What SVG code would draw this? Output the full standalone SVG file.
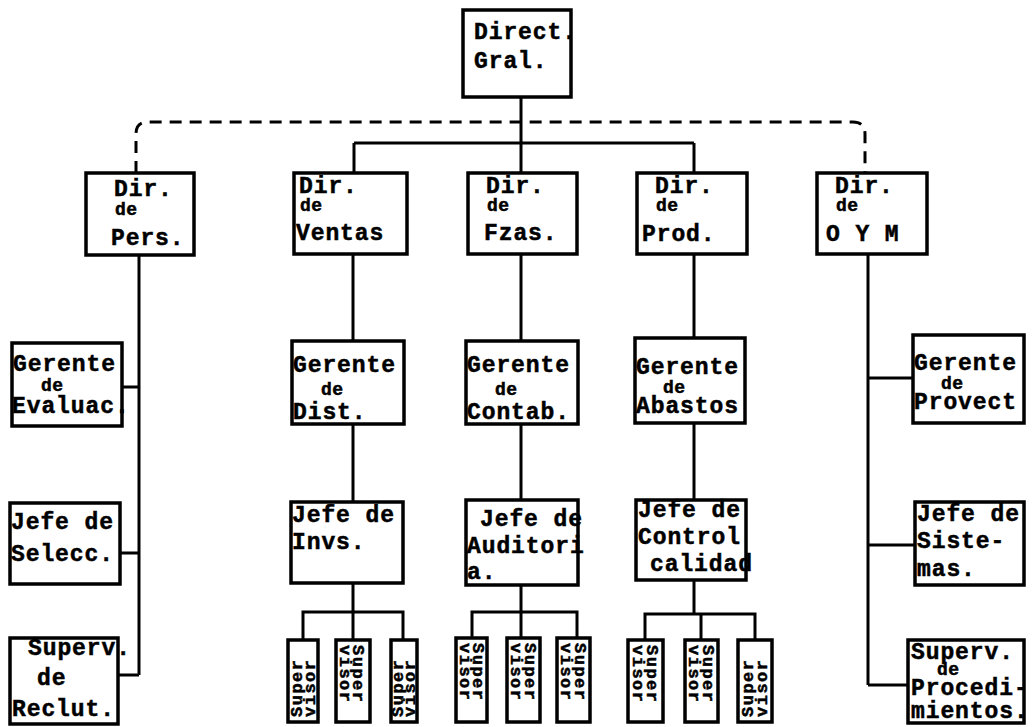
<svg xmlns="http://www.w3.org/2000/svg" width="1033" height="727" viewBox="0 0 1033 727">
<defs>
<style>
.box{fill:#fff;stroke:#000;stroke-width:3.5}
.ln{fill:none;stroke:#000;stroke-width:3}
.dash{fill:none;stroke:#000;stroke-width:3;stroke-dasharray:12 8}
text{font-family:"Liberation Mono","DejaVu Sans Mono",monospace;font-weight:bold;fill:#000;stroke:#000;stroke-width:0.5}
.t{font-size:23px;letter-spacing:0.9px}
.d{font-size:18px;letter-spacing:0.5px}
.s{font-size:17px;letter-spacing:1.5px}
</style>
</defs>
<rect width="1033" height="727" fill="#fff"/>
<g id="connectors">
<path class="dash" d="M136,173 V134 Q136,122 148,122 H853 Q865,122 865,134 V173"/>
<path class="ln" d="M521,97 V173 M354,143 H694 M354,143 V173 M694,143 V173"/>
<path class="ln" d="M139,255 V675 M122,387 H139 M120,553 H139 M118,675 H139"/>
<path class="ln" d="M353,255 V341 M353,424 V502 M353,583 V612 M303,640 V612 H403 V640 M353,612 V640"/>
<path class="ln" d="M521,255 V341 M521,424 V500 M521,585 V612 M472,638 V612 H577 V638 M521,612 V638"/>
<path class="ln" d="M694,255 V338 M694,423 V500 M694,580 V614 M645,640 V614 H755 V640 M701,614 V640"/>
<path class="ln" d="M868,255 V685 M868,378 H913 M868,545 H915 M868,685 H908"/>
</g>
<g id="dir-gral"><rect class="box" x="463" y="10" width="108" height="87"/>
<text class="t" x="474" y="39">Direct.</text><text class="t" x="474" y="68">Gral.</text></g>
<g id="dir-pers"><rect class="box" x="86" y="173" width="108" height="82"/>
<text class="t" x="114" y="196">Dir.</text><text class="d" x="115" y="215">de</text><text class="t" x="111" y="245">Pers.</text></g>
<g id="dir-ventas"><rect class="box" x="294" y="173" width="113" height="81"/>
<text class="t" x="299" y="193">Dir.</text><text class="d" x="300" y="211">de</text><text class="t" x="296" y="240">Ventas</text></g>
<g id="dir-fzas"><rect class="box" x="468" y="173" width="109" height="81"/>
<text class="t" x="486" y="193">Dir.</text><text class="d" x="487" y="211">de</text><text class="t" x="484" y="240">Fzas.</text></g>
<g id="dir-prod"><rect class="box" x="637" y="173" width="110" height="81"/>
<text class="t" x="655" y="193">Dir.</text><text class="d" x="656" y="211">de</text><text class="t" x="642" y="241">Prod.</text></g>
<g id="dir-oym"><rect class="box" x="817" y="173" width="110" height="81"/>
<text class="t" x="835" y="193">Dir.</text><text class="d" x="836" y="211">de</text><text class="t" x="826" y="241">O Y M</text></g>
<g id="ger-evaluac"><rect class="box" x="12" y="343" width="110" height="83"/>
<text class="t" x="13" y="371">Gerente</text><text class="d" x="41" y="391">de</text><text class="t" x="12" y="413">Evaluac.</text></g>
<g id="jefe-selecc"><rect class="box" x="10" y="503" width="110" height="81"/>
<text class="t" x="11" y="529">Jefe de</text><text class="t" x="11" y="561">Selecc.</text></g>
<g id="superv-reclut"><rect class="box" x="10" y="638" width="108" height="86"/>
<text class="t" x="28" y="655">Superv.</text><text class="t" x="37" y="685">de</text><text class="t" x="12" y="716">Reclut.</text></g>
<g id="ger-dist"><rect class="box" x="292" y="341" width="112" height="83"/>
<text class="t" x="293" y="372">Gerente</text><text class="d" x="321" y="395">de</text><text class="t" x="293" y="419">Dist.</text></g>
<g id="jefe-invs"><rect class="box" x="291" y="502" width="112" height="81"/>
<text class="t" x="292" y="522">Jefe de</text><text class="t" x="292" y="549">Invs.</text></g>
<g id="ger-contab"><rect class="box" x="466" y="341" width="112" height="83"/>
<text class="t" x="467" y="372">Gerente</text><text class="d" x="495" y="395">de</text><text class="t" x="467" y="419">Contab.</text></g>
<g id="jefe-auditoria"><rect class="box" x="466" y="500" width="112" height="85"/>
<text class="t" x="480" y="526">Jefe de</text><text class="t" x="467" y="553">Auditori</text><text class="t" x="467" y="579">a.</text></g>
<g id="ger-abastos"><rect class="box" x="635" y="338" width="110" height="85"/>
<text class="t" x="636" y="374">Gerente</text><text class="d" x="663" y="393">de</text><text class="t" x="636" y="413">Abastos</text></g>
<g id="jefe-calidad"><rect class="box" x="636" y="500" width="110" height="80"/>
<text class="t" x="638" y="517">Jefe de</text><text class="t" x="638" y="544">Control</text><text class="t" x="650" y="571">calidad</text></g>
<g id="ger-proyect"><rect class="box" x="913" y="335" width="111" height="88"/>
<text class="t" x="914" y="370">Gerente</text><text class="d" x="941" y="389">de</text><text class="t" x="914" y="409">Provect</text></g>
<g id="jefe-sistemas"><rect class="box" x="915" y="502" width="109" height="83"/>
<text class="t" x="917" y="521">Jefe de</text><text class="t" x="917" y="548">Siste-</text><text class="t" x="917" y="576">mas.</text></g>
<g id="superv-proced"><rect class="box" x="908" y="640" width="116" height="83"/>
<text class="t" x="911" y="659">Superv.</text><text class="d" x="937" y="675">de</text><text class="t" x="911" y="695">Procedi-</text><text class="t" x="911" y="718">mientos.</text></g>
<g id="sv-invs-1"><rect class="box" x="288" y="640" width="30" height="82"/>
<text class="s" transform="translate(302,717) rotate(-90)">Super</text><text class="s" transform="translate(315,717) rotate(-90)">visor</text></g>
<g id="sv-invs-2"><rect class="box" x="336" y="640" width="34" height="82"/>
<text class="s" transform="translate(353,645) rotate(90)">Super</text><text class="s" transform="translate(340,645) rotate(90)">visor</text></g>
<g id="sv-invs-3"><rect class="box" x="391" y="640" width="26" height="82"/>
<text class="s" transform="translate(403,717) rotate(-90)">Super</text><text class="s" transform="translate(415,717) rotate(-90)">visor</text></g>
<g id="sv-aud-1"><rect class="box" x="456" y="638" width="31" height="84"/>
<text class="s" transform="translate(473,643) rotate(90)">Super</text><text class="s" transform="translate(460,643) rotate(90)">visor</text></g>
<g id="sv-aud-2"><rect class="box" x="507" y="638" width="33" height="84"/>
<text class="s" transform="translate(525,643) rotate(90)">Super</text><text class="s" transform="translate(511,643) rotate(90)">visor</text></g>
<g id="sv-aud-3"><rect class="box" x="557" y="638" width="33" height="84"/>
<text class="s" transform="translate(575,643) rotate(90)">Super</text><text class="s" transform="translate(561,643) rotate(90)">visor</text></g>
<g id="sv-cal-1"><rect class="box" x="628" y="640" width="35" height="82"/>
<text class="s" transform="translate(647,645) rotate(90)">Super</text><text class="s" transform="translate(633,645) rotate(90)">visor</text></g>
<g id="sv-cal-2"><rect class="box" x="685" y="640" width="33" height="82"/>
<text class="s" transform="translate(703,645) rotate(90)">Super</text><text class="s" transform="translate(689,645) rotate(90)">visor</text></g>
<g id="sv-cal-3"><rect class="box" x="738" y="640" width="34" height="82"/>
<text class="s" transform="translate(753,717) rotate(-90)">Super</text><text class="s" transform="translate(767,717) rotate(-90)">visor</text></g>
</svg>
